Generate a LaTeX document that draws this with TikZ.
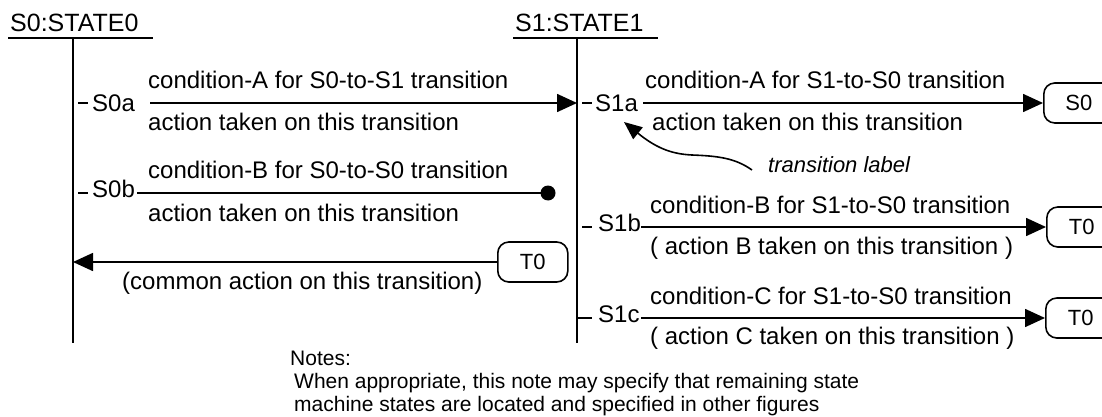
\documentclass[tikz,border=0pt]{standalone}
\usepackage{fontspec}
\setmainfont{Liberation Sans}
\usetikzlibrary{arrows.meta}
\begin{document}
\begin{tikzpicture}[x=1pt,y=-1pt,
  wire/.style={line width=1.6pt},
  arr/.style={wire,-{Triangle[length=20pt,width=18pt]}},
  txt/.style={inner sep=0pt,font=\fontsize{24}{28}\selectfont},
  lbl/.style={txt,anchor=base west},
  statename/.style={inner sep=0pt,anchor=base west,font=\fontsize{25}{30}\selectfont},
  notetxt/.style={inner sep=0pt,anchor=base west,font=\fontsize{21}{24}\selectfont},
  termbox/.style={draw,line width=1.6pt,rounded corners=11pt,minimum width=70pt,
    minimum height=40pt,inner sep=0pt,anchor=west,font=\fontsize{22}{26}\selectfont},
  enddot/.style={circle,fill=black,minimum size=15pt,inner sep=0pt}]
\useasboundingbox (0,0) rectangle (1102,417);
\clip (0,0) rectangle (1102,417);

% state headings and lifelines
\node[statename] (st0) at (10,32) {S0:STATE0};
\node[statename] (st1) at (515,32) {S1:STATE1};
\coordinate (u0l) at (8,38);   \coordinate (u0r) at (153,38);
\coordinate (u1l) at (513,38); \coordinate (u1r) at (658,38);
\draw[wire] (u0l) -- (u0r);
\draw[wire] (u1l) -- (u1r);
\coordinate (l0top) at (73,38);  \coordinate (l0bot) at (73,343);
\coordinate (l1top) at (577,38); \coordinate (l1bot) at (577,343);
\draw[wire] (l0top) -- (l0bot);
\draw[wire] (l1top) -- (l1bot);

% S0a : S0 -> S1
\draw[wire] (78,103) -- (88,103);
\node[txt,anchor=west] (s0a) at (92,103) {S0a};
\coordinate (a0s) at (150,103); \coordinate (a0e) at (577,103);
\draw[arr] (a0s) -- (a0e);
\node[lbl] (c0a) at (148,89) {condition-A for S0-to-S1 transition};
\node[lbl] (x0a) at (148,131) {action taken on this transition};

% S0b : self transition ending in a dot
\draw[wire] (78,193) -- (88,193);
\node[lbl] (s0b) at (92,197) {S0b};
\node[enddot] (dotb) at (548,193) {};
\draw[wire] (s0b.base east) ++(2,-4) coordinate (b0s) -- (dotb.center);
\node[lbl] (c0b) at (148,178) {condition-B for S0-to-S0 transition};
\node[lbl] (x0b) at (148,221) {action taken on this transition};

% common transition from T0
\node[termbox] (t0left) at (497,262) {T0};
\coordinate (cme) at (73,262);
\draw[arr] (t0left.west) -- (cme);
\node[lbl] (cm) at (122,289) {(common action on this transition)};

% S1a : S1 -> S0
\draw[wire] (582,103) -- (592,103);
\node[txt,anchor=west] (s1a) at (595,103) {S1a};
\node[termbox] (s0box) at (1043,103) {S0};
\coordinate (a1s) at (643,103);
\draw[arr] (a1s) -- (s0box.west);
\node[lbl] (c1a) at (645,89) {condition-A for S1-to-S0 transition};
\node[lbl] (x1a) at (652,131) {action taken on this transition};

% callout for the transition label
\node[txt,anchor=base west,font=\itshape\fontsize{22}{26}\selectfont] (tlab) at (768,172) {transition label};
\coordinate (tls) at (752,170);
\coordinate (tlt) at (624,122);
\draw[wire,-{Triangle[length=18pt,width=15pt]}] (tls) .. controls (735,158) and (718,156) .. (692,155)
  .. controls (670,154) and (655,147) .. (tlt);

% S1b
\draw[wire] (582,227) -- (592,227);
\node[lbl] (s1b) at (598,231) {S1b};
\node[termbox] (t0b) at (1046,227) {T0};
\coordinate (b1s) at (641,227);
\draw[arr] (b1s) -- (t0b.west);
\node[lbl] (c1b) at (650,213) {condition-B for S1-to-S0 transition};
\node[lbl] (x1b) at (650,254) {( action B taken on this transition )};

% S1c
\draw[wire] (578,318) -- (592,318);
\node[lbl] (s1c) at (598,322) {S1c};
\node[termbox] (t0c) at (1045,318) {T0};
\coordinate (c1s) at (641,318);
\draw[arr] (c1s) -- (t0c.west);
\node[lbl] (c1c) at (650,304) {condition-C for S1-to-S0 transition};
\node[lbl] (x1c) at (650,344) {( action C taken on this transition )};

% notes
\node[notetxt] (nh) at (290,365) {Notes:};
\node[notetxt] (n1) at (294,388) {When appropriate, this note may specify that remaining state};
\node[notetxt] (n2) at (294,411) {machine states are located and specified in other figures};
\end{tikzpicture}
\end{document}
